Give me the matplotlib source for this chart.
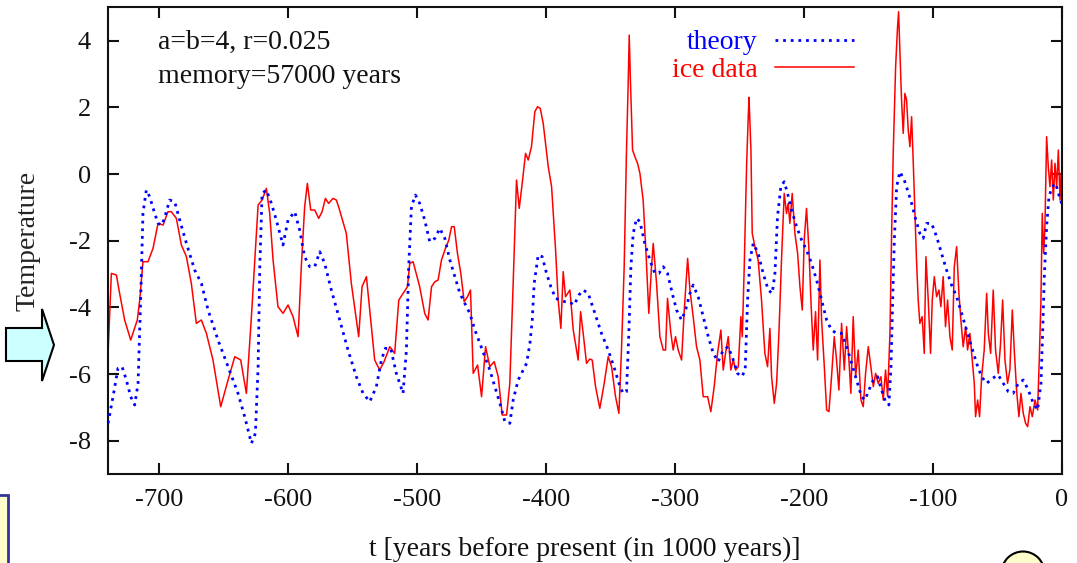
import matplotlib
matplotlib.use("Agg")
import matplotlib.pyplot as plt
from matplotlib.patches import Polygon, Rectangle, Ellipse

# ---------------- data ----------------
theory_t = [-739.6, -735.7, -731.9, -728.7, -725.4, -722.0, -718.9, -716.3, -714.3, -712.5,
            -709.9, -707.3, -703.4, -700.8, -697.7, -695.1, -691.8, -687.9, -684.0, -678.8,
            -672.4, -667.2, -662.0, -654.3, -646.5, -638.8, -633.6, -628.4, -625.3, -623.2,
            -621.9, -620.1, -616.8, -612.9, -609.1, -603.9, -600.0, -594.8, -591.0, -587.1,
            -583.2, -579.3, -575.4, -571.6, -566.4, -559.9, -553.5, -547.0, -541.8, -536.6,
            -531.5, -527.6, -524.5, -520.4, -516.0, -510.8, -508.2, -506.4, -504.3, -501.2,
            -497.9, -494.0, -490.1, -486.1, -482.3, -478.4, -474.5, -470.6, -466.7, -462.9,
            -459.0, -455.1, -451.2, -447.4, -443.5, -439.6, -435.7, -431.8, -428.0, -425.4,
            -421.5, -417.6, -415.0, -412.4, -410.6, -409.1, -406.0, -402.9, -399.5, -396.2,
            -392.5, -389.2, -385.3, -382.2, -378.1, -374.4, -371.1, -367.2, -362.0, -356.9,
            -351.7, -346.5, -342.6, -340.1, -337.5, -335.7, -334.1, -332.3, -329.7, -327.1,
            -323.3, -319.4, -315.5, -312.4, -309.0, -305.7, -302.0, -298.7, -294.8, -291.7,
            -288.3, -285.8, -281.9, -278.0, -274.1, -270.2, -266.4, -262.5, -258.6, -254.7,
            -251.4, -248.3, -245.5, -243.6, -241.8, -239.2, -235.4, -231.5, -227.6, -224.5,
            -222.4, -220.4, -217.8, -215.2, -212.6, -209.5, -205.6, -201.7, -197.9, -194.0,
            -190.1, -186.2, -182.3, -178.5, -174.6, -170.7, -166.8, -162.9, -159.1, -155.2,
            -152.6, -149.5, -146.1, -142.8, -139.7, -136.6, -134.0, -132.4, -131.1, -129.8,
            -128.0, -125.5, -122.1, -119.0, -116.4, -113.8, -110.0, -107.4, -104.8, -100.9,
            -97.0, -93.2, -89.3, -85.4, -81.5, -77.6, -73.8, -69.9, -66.0, -62.1,
            -58.2, -53.8, -49.2, -45.3, -41.4, -37.6, -33.7, -29.8, -25.9, -22.0,
            -18.7, -16.1, -14.8, -13.5, -11.7, -9.9, -7.3, -4.7, -2.6, -0.8, 0.0]
theory_T = [-7.48, -6.68, -5.83, -5.78, -6.18, -6.68, -6.93, -6.28, -3.78, -1.18,
            -0.48, -0.68, -1.18, -1.48, -1.53, -1.23, -0.78, -0.83, -1.38, -2.08,
            -2.88, -3.28, -4.08, -4.98, -5.78, -6.58, -7.28, -8.08, -7.78, -5.78,
            -2.78, -0.58, -0.48, -0.88, -1.38, -2.13, -1.38, -1.13, -1.68, -2.48,
            -2.78, -2.78, -2.33, -2.68, -3.48, -4.38, -5.28, -6.08, -6.58, -6.83,
            -6.38, -5.58, -5.23, -5.23, -5.98, -6.58, -5.28, -2.78, -0.98, -0.63,
            -0.88, -1.38, -2.03, -1.93, -1.63, -1.93, -2.58, -3.08, -3.58, -3.88,
            -4.18, -4.68, -5.08, -5.48, -5.88, -6.38, -6.88, -7.43, -7.48, -6.78,
            -6.18, -5.88, -5.68, -5.08, -4.38, -3.28, -2.43, -2.48, -2.98, -3.38,
            -3.73, -3.78, -3.83, -3.83, -3.93, -3.63, -3.48, -3.58, -4.18, -4.78,
            -5.28, -5.88, -6.38, -6.58, -6.53, -4.78, -2.78, -1.78, -1.33, -1.43,
            -2.08, -2.58, -2.98, -2.98, -2.78, -2.98, -3.58, -4.08, -4.38, -4.08,
            -3.58, -3.33, -3.68, -4.28, -4.88, -5.38, -5.63, -5.28, -5.18, -5.58,
            -5.98, -6.08, -5.90, -3.78, -2.58, -2.08, -2.38, -2.98, -3.48, -3.58,
            -2.98, -1.28, -0.38, -0.23, -0.58, -1.08, -1.58, -1.98, -2.28, -2.68,
            -3.18, -3.78, -4.38, -4.68, -4.78, -4.78, -5.18, -5.68, -6.18, -6.68,
            -6.78, -6.48, -6.18, -6.08, -6.48, -6.83, -6.93, -5.78, -3.78, -1.98,
            -0.38, 0.07, -0.18, -0.55, -0.88, -1.28, -1.78, -1.93, -1.48, -1.48,
            -1.88, -2.38, -2.88, -3.33, -3.68, -4.18, -4.68, -5.18, -5.68, -6.08,
            -6.28, -6.13, -6.03, -6.28, -6.53, -6.58, -6.28, -6.18, -6.48, -6.88,
            -7.08, -6.28, -4.78, -3.08, -1.58, -0.68, -0.38, -0.28, -0.58, -0.78, -0.90]

ice_t = [-740.0, -737.0, -733.1, -730.6, -726.7, -722.0, -716.9, -715.0, -712.5, -708.6,
         -704.7, -700.8, -696.9, -693.1, -690.5, -686.6, -682.7, -678.8, -675.0, -671.1,
         -667.2, -663.3, -658.2, -652.2, -646.5, -641.3, -636.7, -632.3, -628.4, -623.2,
         -620.1, -616.8, -614.2, -611.6, -607.8, -603.9, -600.0, -596.1, -592.2, -589.7,
         -587.1, -585.0, -582.4, -579.3, -576.2, -573.6, -571.0, -568.5, -565.1, -562.5,
         -560.0, -554.8, -550.9, -545.2, -542.6, -539.2, -535.9, -532.8, -528.9, -525.5,
         -521.1, -517.3, -514.1, -510.8, -507.4, -505.6, -503.0, -497.9, -494.0, -491.4,
         -488.7, -486.1, -483.6, -481.0, -477.9, -475.3, -473.2, -471.1, -468.6, -466.0,
         -463.4, -460.8, -458.5, -456.4, -453.0, -449.9, -446.8, -443.5, -440.1, -437.0,
         -433.9, -430.5, -428.0, -425.4, -422.8, -420.7, -418.1, -415.8, -413.7, -411.2,
         -408.6, -406.5, -404.4, -402.1, -398.2, -395.6, -392.5, -390.5, -388.4, -386.6,
         -384.8, -381.4, -378.8, -375.0, -373.1, -371.1, -368.5, -366.0, -364.1, -361.5,
         -358.2, -354.8, -351.7, -349.1, -346.0, -343.4, -341.4, -339.3, -337.5, -336.2,
         -335.4, -334.4, -332.8, -331.0, -328.9, -327.1, -324.6, -322.5, -320.2, -318.1,
         -316.8, -314.2, -311.6, -309.0, -307.2, -305.7, -303.1, -301.3, -299.5, -297.4,
         -294.8, -292.7, -290.1, -288.3, -285.8, -283.2, -280.6, -278.0, -274.6, -272.1,
         -269.5, -266.9, -264.3, -262.5, -260.7, -258.6, -256.6, -254.7, -252.9, -250.8,
         -248.8, -247.7, -246.2, -244.4, -243.1, -242.5, -241.0, -240.0, -237.9, -235.4,
         -232.8, -230.2, -228.1, -226.3, -225.0, -222.9, -221.1, -219.3, -217.3, -215.2,
         -213.4, -212.1, -210.8, -209.0, -206.9, -204.8, -203.0, -201.2, -199.7, -197.9,
         -196.0, -194.5, -192.7, -190.9, -189.3, -187.5, -186.2, -184.1, -182.3, -180.5,
         -178.5, -176.4, -174.6, -172.8, -170.7, -168.6, -166.8, -165.0, -163.5, -161.7,
         -159.8, -157.8, -155.7, -153.9, -152.1, -150.0, -148.0, -146.1, -144.3, -142.3,
         -140.2, -138.4, -136.6, -135.0, -133.2, -131.9, -130.6, -128.8, -127.3, -126.5,
         -125.5, -124.2, -122.9, -121.6, -120.3, -119.0, -117.7, -116.4, -115.1, -113.8,
         -112.6, -111.3, -110.0, -108.2, -106.6, -105.3, -103.5, -101.7, -100.4, -98.8,
         -97.0, -95.2, -93.7, -91.9, -90.1, -88.5, -86.7, -84.9, -83.3, -81.5,
         -79.7, -78.2, -76.4, -74.5, -73.0, -71.2, -69.4, -67.8, -66.8, -65.2,
         -63.7, -62.1, -60.1, -58.2, -56.9, -55.1, -53.1, -51.3, -49.2, -47.4,
         -45.8, -44.0, -42.0, -40.2, -38.3, -36.8, -35.0, -33.2, -31.6, -29.8,
         -28.0, -26.4, -24.6, -22.8, -20.7, -18.7, -17.4, -16.1, -15.1, -14.0,
         -13.0, -11.7, -10.4, -9.1, -7.8, -6.5, -5.2, -3.9, -2.6, -1.3, -0.5]
ice_T = [-5.78, -2.98, -3.03, -3.58, -4.38, -4.98, -4.38, -3.78, -2.63, -2.63,
         -2.23, -1.48, -1.53, -1.13, -1.13, -1.33, -2.13, -2.48, -3.28, -4.48,
         -4.38, -4.78, -5.58, -6.98, -6.18, -5.48, -5.58, -6.58, -4.28, -0.93,
         -0.78, -0.43, -1.18, -2.58, -3.98, -4.18, -3.93, -4.28, -4.88, -2.78,
         -0.98, -0.28, -1.08, -1.08, -1.33, -1.13, -0.73, -0.88, -0.73, -0.78,
         -1.08, -1.78, -3.28, -4.88, -3.38, -3.08, -4.38, -5.58, -5.88, -5.63,
         -5.18, -5.38, -3.78, -3.58, -3.38, -2.68, -2.63, -3.38, -4.18, -4.38,
         -3.38, -3.23, -3.18, -2.58, -2.23, -1.98, -1.58, -1.58, -2.38, -2.98,
         -3.83, -3.68, -3.48, -5.98, -5.73, -6.68, -5.18, -5.78, -5.63, -6.08,
         -7.23, -7.23, -6.28, -3.28, -0.18, -1.03, -0.18, 0.62, 0.42, 0.82,
         1.87, 2.02, 1.97, 1.52, 0.22, -0.38, -2.28, -3.78, -4.63, -2.93,
         -3.68, -3.48, -4.68, -5.58, -4.13, -4.78, -5.68, -5.55, -5.58, -6.38,
         -7.03, -6.28, -5.48, -5.78, -6.68, -7.18, -5.28, -2.78, 0.72, 2.72,
         4.17, 2.72, 0.72, 0.52, 0.32, 0.02, -0.78, -2.28, -4.18, -2.78,
         -2.08, -3.28, -4.88, -5.28, -5.28, -3.73, -4.78, -5.28, -4.88, -5.28,
         -5.58, -4.08, -2.53, -3.48, -4.28, -5.18, -5.58, -6.68, -6.68, -7.13,
         -6.38, -5.38, -4.68, -5.88, -5.38, -4.88, -5.88, -5.58, -5.88, -5.78,
         -4.28, -4.88, -2.78, 0.22, 1.72, 2.30, 0.72, -1.78, -2.18, -2.58,
         -3.78, -5.38, -5.78, -4.63, -6.08, -6.88, -6.28, -4.78, -2.58, -0.58,
         -1.18, -0.88, -1.48, -0.58, -1.78, -2.38, -3.38, -4.08, -1.98, -1.03,
         -2.28, -3.78, -5.28, -4.13, -5.58, -2.58, -4.38, -5.78, -7.08, -7.13,
         -6.08, -4.88, -5.58, -6.48, -4.48, -5.88, -4.58, -5.58, -6.58, -4.28,
         -6.08, -5.28, -6.78, -6.98, -5.98, -5.18, -5.78, -6.38, -5.98, -6.28,
         -6.08, -6.78, -5.88, -6.68, -4.78, -1.78, 0.72, 3.22, 4.42, 4.87,
         3.72, 2.22, 1.22, 2.42, 2.22, 1.32, 0.82, 1.72, 0.32, -1.18,
         -2.58, -3.78, -4.48, -4.28, -5.38, -2.48, -3.78, -5.38, -3.78, -3.08,
         -3.68, -3.48, -3.98, -3.08, -4.58, -3.78, -4.88, -5.28, -2.78, -2.18,
         -3.58, -4.38, -5.18, -4.58, -5.28, -4.78, -5.58, -6.28, -7.28, -6.78,
         -7.28, -6.08, -5.28, -3.58, -4.78, -5.38, -3.48, -5.28, -5.98, -5.08,
         -3.78, -5.58, -6.28, -5.88, -4.08, -5.28, -6.48, -7.28, -6.58, -7.18,
         -7.48, -7.58, -6.98, -7.28, -6.78, -7.08, -5.58, -3.78, -1.18, -2.38,
         -1.58, 1.12, 0.22, -0.38, 0.42, -0.78, 0.32, -0.38, 0.72, -0.78, 0.02]

x_ticks = [-700, -600, -500, -400, -300, -200, -100, 0]
x_tick_labels = ["-700", "-600", "-500", "-400", "-300", "-200", "-100", "0"]
y_ticks = [-8, -6, -4, -2, 0, 2, 4]
y_tick_labels = ["-8", "-6", "-4", "-2", "0", "2", "4"]
series_labels = ["theory", "ice data"]
annotation_lines = ["a=b=4, r=0.025", "memory=57000 years"]
x_label = "t [years before present (in 1000 years)]"
y_label = "Temperature"

# ---------------- style ----------------
plt.rcParams['font.family'] = ['Liberation Serif', 'DejaVu Serif']
plt.rcParams['axes.unicode_minus'] = False

W, H = 1077, 563
fig = plt.figure(figsize=(W / 100, H / 100), dpi=100)
fig.patch.set_facecolor('white')

L, R, T, B = 107.5, 1061.7, 7.4, 474.0
ax = fig.add_axes([L / W, 1 - B / H, (R - L) / W, (B - T) / H])

ax.plot(theory_t, theory_T, color='#0000ff', lw=2.0, linestyle=(0, (1, 1.75)),
        dash_capstyle='butt', label=series_labels[0], zorder=3)
ax.plot(ice_t, ice_T, color='#ff0000', lw=1.1, label=series_labels[1], zorder=2)

ax.set_xlim(-740, 0)
ax.set_ylim(-9, 5)
ax.set_xticks(x_ticks)
ax.set_xticklabels(x_tick_labels)
ax.set_yticks(y_ticks)
ax.set_yticklabels(y_tick_labels)

for s in ax.spines.values():
    s.set_linewidth(1.5)
    s.set_color('#111111')
ax.tick_params(axis='both', which='major', direction='in', length=8, width=1.5,
               top=True, right=True, labelsize=19, colors='#111111')
ax.tick_params(axis='x', pad=11)
ax.tick_params(axis='y', pad=12)

# annotation text
ax.text(0.0532, 0.910, annotation_lines[0], transform=ax.transAxes, fontsize=20,
        ha='left', va='baseline', color='#111111')
ax.text(0.0532, 0.838, annotation_lines[1], transform=ax.transAxes, fontsize=20,
        ha='left', va='baseline', color='#111111')

leg = ax.legend(loc='upper right', bbox_to_anchor=(0.782, 0.952), markerfirst=False,
                frameon=False, fontsize=20, handlelength=2.85, handletextpad=0.6,
                labelspacing=0.09, borderpad=0, borderaxespad=0)
for txt, c in zip(leg.get_texts(), ['#0000ff', '#ff0000']):
    txt.set_color(c)

# axis labels
fig.text(((L + R) / 2) / W, 1 - 556 / H, x_label, ha='center', va='baseline',
         fontsize=20, color='#111111')
fig.text(28 / W, 1 - ((T + B) / 2) / H, y_label, ha='center', va='center',
         rotation=90, fontsize=20, color='#222222')

# slide decorations around the chart
def px(x, y):
    return (x / W, 1 - y / H)

arrow_pts = [px(6, 328), px(42, 328), px(42, 309), px(54, 345), px(42, 381),
             px(42, 361), px(6, 361)]
fig.patches.append(Polygon(arrow_pts, closed=True, transform=fig.transFigure,
                           facecolor='#ccffff', edgecolor='black', lw=1.5))
fig.patches.append(Rectangle(px(-10, 570), 17.5 / W, 75 / H, transform=fig.transFigure,
                             facecolor='#ffffcc', edgecolor='#333399', lw=2))
fig.patches.append(Ellipse(px(1023, 573), 43 / W, 43 / H, transform=fig.transFigure,
                           facecolor='#ffffcc', edgecolor='black', lw=1.5))

fig.savefig('out.png', dpi=100)
